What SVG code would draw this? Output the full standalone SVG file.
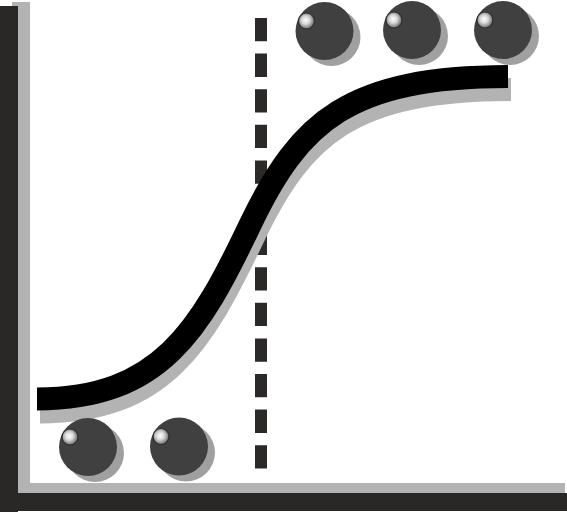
<svg xmlns="http://www.w3.org/2000/svg" width="567" height="512" viewBox="0 0 567 512">
  <style>
    .axis-dark { fill: #292826; }
    .axis-shadow { fill: #b3b3b3; }
    .curve { fill: none; stroke-width: 23; stroke-linecap: butt; }
    .ball { fill: #404040; }
    .ball-shadow { fill: #a0a0a0; }
    .hl { fill: url(#hlGrad); stroke: #2e2e2e; stroke-width: 1.2; }
  </style>
  <defs>
    <radialGradient id="hlGrad" cx="0.45" cy="0.45" r="0.55">
      <stop offset="0" stop-color="#ffffff"/>
      <stop offset="0.45" stop-color="#d8d8d8"/>
      <stop offset="1" stop-color="#6a6a6a"/>
    </radialGradient>
    <g id="ballShape">
      <circle class="ball-shadow" cx="7" cy="6" r="29"/>
      <circle class="ball" cx="0" cy="0" r="29"/>
      <circle class="hl" cx="-18" cy="-10" r="8"/>
    </g>
  </defs>

  <g id="axes">
    <rect class="axis-shadow" x="12" y="2" width="18" height="495"/>
    <rect class="axis-shadow" x="12" y="483" width="553" height="18"/>
    <rect class="axis-dark" x="0" y="6" width="18" height="506"/>
    <rect class="axis-dark" x="0" y="493" width="567" height="18"/>
  </g>

  <g id="threshold">
    <line x1="261" y1="18" x2="261" y2="469" stroke="#2b2a28" stroke-width="12" stroke-dasharray="23.3 12.3"/>
  </g>

  <g id="connectors">
    <path class="curve" stroke="#b3b3b3" transform="translate(3,13)" d="M37 399 C160 399 200 330 250 225 C300 120 350 77 508 76.5"/>
    <path class="curve" stroke="#000000" d="M37 399 C160 399 200 330 250 225 C300 120 350 77 508 76.5"/>
  </g>

  <g id="ball-bottom-1"><use href="#ballShape" x="88" y="447"/></g>
  <g id="ball-bottom-2"><use href="#ballShape" x="179" y="446.5"/></g>
  <g id="ball-top-1"><use href="#ballShape" x="324.5" y="31"/></g>
  <g id="ball-top-2"><use href="#ballShape" x="412" y="30"/></g>
  <g id="ball-top-3"><use href="#ballShape" x="503" y="30"/></g>
</svg>
